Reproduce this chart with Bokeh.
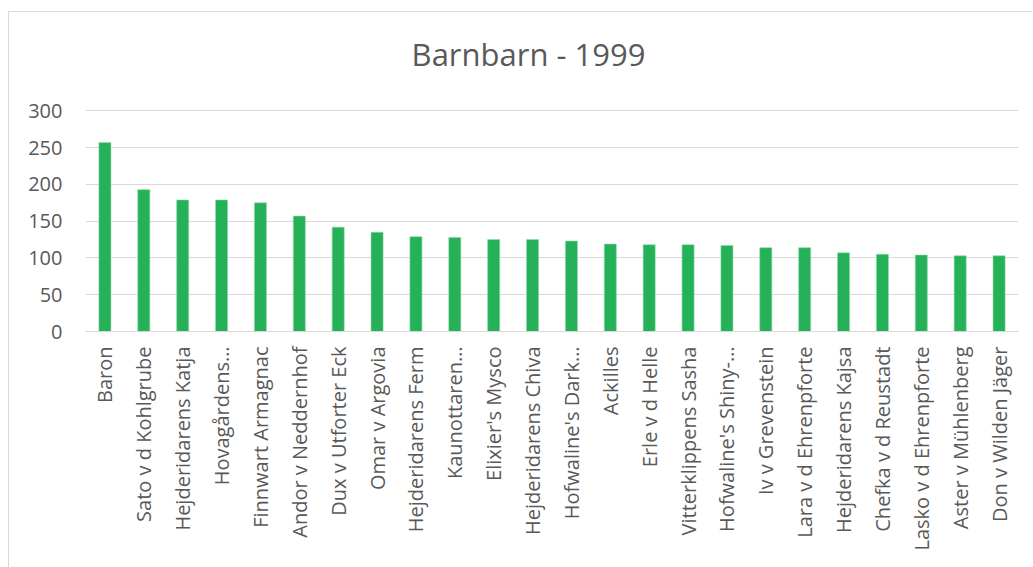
from bokeh.plotting import figure
from bokeh.models import FactorRange, Range1d, FixedTicker, Label
from bokeh.embed import file_html
from bokeh.resources import INLINE
import math

categories = ["Baron", "Sato v d Kohlgrube", "Hejderidarens Katja", "Hovagårdens…",
              "Finnwart Armagnac", "Andor v Neddernhof", "Dux v Utforter Eck",
              "Omar v Argovia", "Hejderidarens Ferm", "Kaunottaren…", "Elixier's Mysco",
              "Hejderidarens Chiva", "Hofwaline's Dark…", "Ackilles", "Erle v d Helle",
              "Vitterklippens Sasha", "Hofwaline's Shiny-…", "Iv v Grevenstein",
              "Lara v d Ehrenpforte", "Hejderidarens Kajsa", "Chefka v d Reustadt",
              "Lasko v d Ehrenpforte", "Aster v Mühlenberg", "Don v Wilden Jäger"]
values = [257, 193, 179, 179, 175, 157, 142, 135, 129, 128, 125, 125,
          123, 119, 118, 118, 117, 114, 114, 107, 105, 104, 103, 103]
y_ticks = [0, 50, 100, 150, 200, 250, 300]
title = "Barnbarn - 1999"

FONT = "Open Sans"
GREY = "#595959"

# frame extends to the top of the canvas so the title (a Label) sits inside it;
# gridlines are only drawn at the fixed ticks 0..300
p = figure(width=1024, height=556, x_range=FactorRange(*categories, range_padding=0),
           y_range=Range1d(0, 434), output_backend="svg", toolbar_location=None,
           min_border_left=76, min_border_right=15, min_border_top=0, min_border_bottom=237)

p.vbar(x=categories, top=values, width=0.31, color="#24b157", line_color="#8fd9a8", line_width=0.6)

title_label = Label(x=443, y=278, x_units="screen", y_units="screen", text=title,
                    text_align="center", text_baseline="alphabetic", text_font=FONT,
                    text_font_size="31px", text_color=GREY)
p.add_layout(title_label)

p.yaxis.ticker = FixedTicker(ticks=y_ticks)
p.yaxis.axis_line_color = None
p.yaxis.major_tick_line_color = None
p.yaxis.minor_tick_line_color = None
p.yaxis.major_label_text_font = FONT
p.yaxis.major_label_text_font_size = "20px"
p.yaxis.major_label_text_color = GREY
p.yaxis.major_label_standoff = 17

p.xaxis.axis_line_color = "#d9d9d9"
p.xaxis.major_tick_line_color = None
p.xaxis.minor_tick_line_color = None
p.xaxis.major_label_orientation = math.pi / 2
p.xaxis.major_label_text_font = FONT
p.xaxis.major_label_text_font_size = "20px"
p.xaxis.major_label_text_color = GREY
p.xaxis.major_label_standoff = 9

p.xgrid.grid_line_color = None
p.ygrid.grid_line_color = "#d9d9d9"
p.ygrid.grid_line_width = 1
p.outline_line_color = None
p.background_fill_color = "white"
p.border_fill_color = "white"
p.styles = {"border-left": "1px solid #d9d9d9", "border-top": "1px solid #d9d9d9",
            "margin-top": "11px", "margin-left": "8px"}

open("out.html", "w").write(file_html(p, INLINE))
